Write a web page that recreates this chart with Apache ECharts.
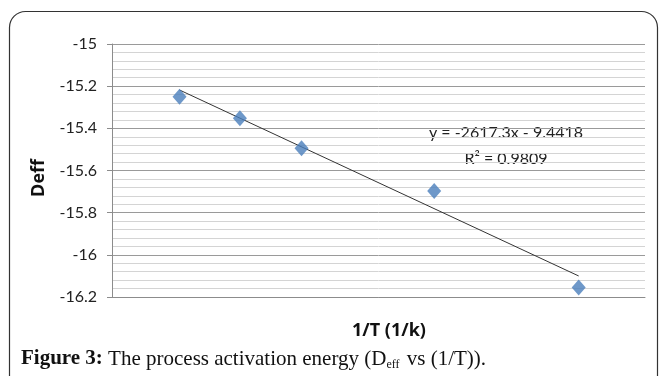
<!DOCTYPE html>
<html>
<head>
<meta charset="utf-8">
<script src="https://cdn.jsdelivr.net/npm/echarts@6/dist/echarts.min.js"></script>
<style>
  html, body { margin: 0; padding: 0; background: #fff; }
  #chart { width: 660px; height: 376px; }
</style>
</head>
<body>
<div id="chart"></div>
<script>
// 1/T values (axis labels hidden in the original, read from positions)
const invTemp = [0.002207, 0.002258, 0.00231, 0.002422, 0.002544];
// ln(Deff) values
const deff = [-15.25, -15.352, -15.494, -15.697, -16.155];
// linear trendline from the figure
const trendSlope = -2617.3;
const trendIntercept = -9.4418;
const yTicks = { min: -16.2, max: -15, step: 0.2 };

const xMin = Math.min(...invTemp);
const xMax = Math.max(...invTemp);
const trendData = [
  [xMin, trendSlope * xMin + trendIntercept],
  [xMax, trendSlope * xMax + trendIntercept],
];

const chart = echarts.init(document.getElementById('chart'));

const titleFont = 'bold 18px "Open Sans"';

const option = {
  animation: false,
  textStyle: { fontFamily: 'Lato' },
  grid: { left: 112, top: 44, right: 15, bottom: 79 },
  xAxis: {
    type: 'value',
    min: 0.00215,
    max: 0.0026,
    axisLine: { lineStyle: { color: '#8c8c8c' } },
    axisTick: { show: false },
    axisLabel: { show: false },
    splitLine: { show: false },
  },
  yAxis: {
    type: 'value',
    min: yTicks.min,
    max: yTicks.max,
    interval: yTicks.step,
    axisLine: { show: true, lineStyle: { color: '#8c8c8c' } },
    axisTick: { show: true, length: 5, lineStyle: { color: '#8c8c8c' } },
    axisLabel: { fontSize: 16, color: '#222', margin: 15 },
    splitLine: { lineStyle: { color: '#9a9a9a' } },
    minorTick: { show: false, splitNumber: 5 },
    minorSplitLine: { show: true, lineStyle: { color: '#d4d4d4' } },
  },
  series: [
    {
      name: 'Deff',
      type: 'scatter',
      data: invTemp.map((x, i) => [x, deff[i]]),
      symbol: 'diamond',
      symbolSize: [14, 16],
      itemStyle: { color: '#4a7ebb' },
      z: 3,
    },
    {
      name: 'Linear (Deff)',
      type: 'line',
      data: trendData,
      symbol: 'none',
      lineStyle: { color: '#333', width: 1 },
      z: 2,
    },
  ],
  graphic: [
    {
      type: 'rect',
      shape: { x: 9.5, y: 11.5, width: 648, height: 420, r: 16 },
      style: { fill: 'none', stroke: '#333', lineWidth: 1.2 },
      silent: true,
    },
    // axis titles
    {
      type: 'text',
      x: 39,
      y: 178,
      rotation: Math.PI / 2,
      style: { text: 'Deff', font: titleFont, fill: '#111', align: 'center', verticalAlign: 'middle' },
      silent: true,
    },
    {
      type: 'text',
      x: 389,
      y: 331,
      style: { text: '1/T (1/k)', font: titleFont, fill: '#111', align: 'center', verticalAlign: 'middle' },
      silent: true,
    },
    // trendline label
    {
      type: 'text',
      x: 506,
      y: 146,
      style: {
        text: 'y = -2617.3x - 9.4418\nR² = 0.9809',
        font: '16px Lato',
        fill: '#222',
        align: 'center',
        verticalAlign: 'middle',
        lineHeight: 26,
      },
      silent: true,
    },
    // caption
    {
      type: 'text',
      x: 21,
      y: 359,
      style: {
        text: '{b|Figure 3:} The process activation energy (D{sub|eff} vs (1/T)).',
        font: '21px "Liberation Serif"',
        fill: '#111',
        verticalAlign: 'middle',
        rich: {
          b: { font: 'bold 21px "Liberation Serif"', fill: '#111' },
          sub: { font: '12px "Liberation Serif"', fill: '#111', padding: [12, 2, 0, 0] },
        },
      },
      silent: true,
    },
  ],
};

chart.setOption(option);
</script>
</body>
</html>
